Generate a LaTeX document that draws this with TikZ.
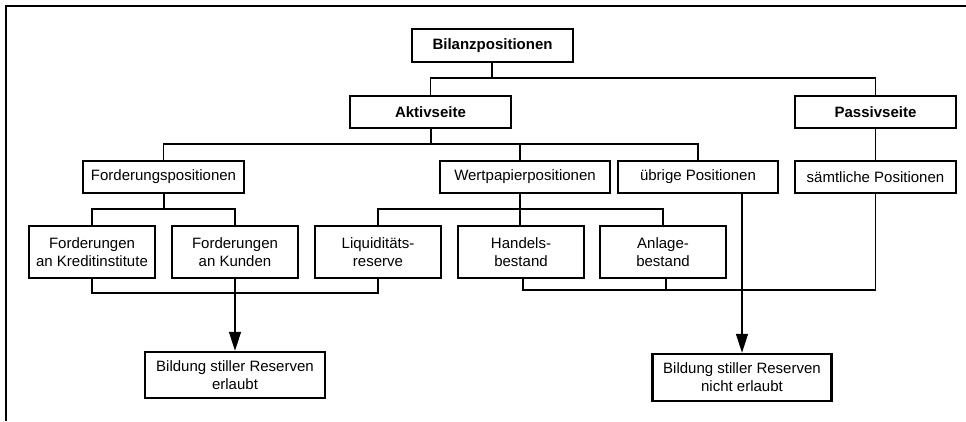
\documentclass[tikz,border=0pt]{standalone}
\usepackage{fontspec}
\setmainfont{Liberation Sans}
\usetikzlibrary{arrows.meta}
\begin{document}
\begin{tikzpicture}[x=1pt,y=-1pt,
  every node/.style={font=\fontsize{15}{18}\selectfont, align=center, inner sep=0pt},
  box/.style={draw, line width=1.1pt, minimum height=32pt},
  tall/.style={draw, line width=1.1pt, minimum height=52pt, minimum width=126pt},
  result/.style={draw, line width=2.4pt, minimum height=46pt, minimum width=179pt},
  conn/.style={line width=1.1pt},
  arrow/.style={line width=1.3pt, -{Triangle[length=19pt,width=12pt]}}]
\useasboundingbox (0,0) rectangle (966,421);
% frame (left and top edges)
\draw[line width=2pt] (6,421) -- (6,6) -- (966,6);
% nodes
\node[box, minimum width=161pt, minimum height=33pt] (bil) at (492.5,45.5) {\textbf{Bilanzpositionen}};
\node[box, minimum width=161pt] (akt) at (430.5,112) {\textbf{Aktivseite}};
\node[box, minimum width=161pt] (pas) at (875.5,112) {\textbf{Passivseite}};
\node[box, minimum width=161pt] (ford) at (163.5,177) {Forderungspositionen};
\node[box, minimum width=170pt] (wert) at (525,177) {Wertpapierpositionen};
\node[box, minimum width=160pt] (ueb) at (698,177) {übrige Positionen};
\node[box, minimum width=161pt] (saem) at (875.5,177) {sämtliche Positionen};
\node[tall] (kred) at (92,252) {Forderungen\\an Kreditinstitute};
\node[tall] (kund) at (235,252) {Forderungen\\an Kunden};
\node[tall] (liq) at (378,252) {Liquiditäts-\\reserve};
\node[tall] (hand) at (521,252) {Handels-\\bestand};
\node[tall] (anl) at (663,252) {Anlage-\\bestand};
\node[result, minimum width=180pt] (erl) at (235,375) {Bildung stiller Reserven\\erlaubt};
\node[result, minimum height=47pt] (nerl) at (742,377.5) {Bildung stiller Reserven\\nicht erlaubt};
% junction coordinates
\coordinate (j1) at (492,78);
\coordinate (j2) at (431,144);
\coordinate (j3) at (164,209);
\coordinate (j4) at (520,209);
\coordinate (j5) at (235,293);
\coordinate (j6) at (523,290);
% tree connectors
\draw[conn] (bil.south -| j1) -- (j1) -| (akt.north);
\draw[conn] (j1) -| (pas.north);
\draw[conn] (akt.south -| j2) -- (j2) -| (ford.north);
\draw[conn] (j2) -| (ueb.north);
\draw[conn] (j2) -| (wert.north -| j4);
\draw[conn] (pas.south) -- (saem.north);
\draw[conn] (ford.south -| j3) -- (j3) -| (kred.north);
\draw[conn] (j3) -| (kund.north);
\draw[conn] (wert.south -| j4) -- (j4) -| (liq.north);
\draw[conn] (j4) -| (anl.north);
\draw[conn] (j4) -- (hand.north -| j4);
% bottom connectors
\draw[conn] (kred.south) |- (j5) -| (liq.south);
\draw[conn] (hand.south -| j6) -- (j6) -| (saem.south);
\draw[conn] (anl.south -| 666,0) -- (666,290);
% arrows
\draw[arrow] (kund.south) -- (erl.north);
\draw[arrow] (ueb.south -| nerl.north) -- (nerl.north);
\end{tikzpicture}
\end{document}
